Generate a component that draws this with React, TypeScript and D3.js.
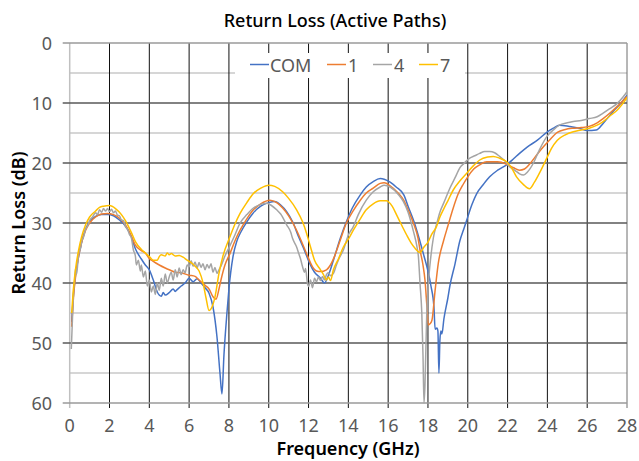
import React from "react";
import * as d3 from "d3";

const W = 639;
const H = 461;

const xTicks = [0, 2, 4, 6, 8, 10, 12, 14, 16, 18, 20, 22, 24, 26, 28];
const yMajor = [0, 10, 20, 30, 40, 50, 60];
const yMinor = [5, 15, 25, 35, 45, 55];

const seriesNames = ["COM", "1", "4", "7"];
const seriesColors = ["#4472C4", "#ED7D31", "#A5A5A5", "#FFC000"];

// COM (blue): [GHz, dB]
const comData: [number, number][] = [
  [0.1, 46.5], [0.2, 41.5], [0.3, 38.5], [0.45, 35.5], [0.6, 33.2], [0.8, 31], [1.0, 29.8], [1.3, 28.9],
  [1.6, 28.6], [1.9, 28.6], [2.2, 28.8], [2.5, 29.5], [2.8, 30.5], [3.1, 32.3], [3.3, 34.3], [3.6, 36],
  [3.8, 37], [4.0, 37.8], [4.2, 39.5], [4.4, 41.5], [4.6, 42.2], [4.7, 41.6], [4.8, 42], [5.0, 41.6], [5.2, 41],
  [5.3, 41.4], [5.4, 41.1], [5.6, 40.5], [5.8, 40], [6.0, 39.2], [6.2, 39.8], [6.4, 39.3], [6.6, 40], [6.8, 40.8],
  [7.0, 41.7], [7.2, 44], [7.4, 49], [7.55, 55], [7.65, 58.5], [7.75, 52], [7.9, 45], [8.0, 41], [8.2, 35.7],
  [8.4, 33], [8.6, 31.5], [8.9, 29.8], [9.2, 28.4], [9.6, 27.2], [10.0, 26.6], [10.3, 26.4], [10.6, 27],
  [10.9, 28.1], [11.2, 29.8], [11.5, 32.3], [11.8, 34.6], [12.05, 36.7], [12.3, 38.2], [12.6, 39.2], [12.8, 40],
  [13.0, 38.7], [13.25, 36.2], [13.6, 32.5], [13.9, 29.8], [14.2, 27.5], [14.6, 25.3], [14.9, 24], [15.25, 23.1],
  [15.6, 22.6], [15.8, 22.7], [16.1, 23.2], [16.4, 24], [16.8, 25.4], [17.0, 27.2], [17.3, 29.8], [17.55, 32.5],
  [17.8, 35.5], [18.0, 38], [18.15, 40.5], [18.3, 44], [18.36, 47.7], [18.45, 47.5], [18.5, 48], [18.55, 55],
  [18.6, 49.5], [18.65, 48], [18.7, 48.5], [18.8, 46], [19.0, 42.5], [19.1, 40.5], [19.36, 36.8], [19.6, 33],
  [19.8, 31], [19.95, 29.5], [20.2, 27], [20.45, 25.1], [20.8, 23.5], [21.1, 22.3], [21.5, 21.2], [21.95, 20.3],
  [22.3, 19.3], [22.6, 18.4], [23.0, 17.3], [23.5, 16.2], [24.0, 14.8], [24.3, 14.2], [24.6, 13.7], [25.1, 13.9],
  [25.6, 14.2], [26.0, 14.6], [26.45, 14.5], [26.8, 13.4], [27.3, 11.4], [27.7, 10], [28.0, 8.7],
];

// Path 1 (orange)
const p1Data: [number, number][] = [
  [0.1, 47.3], [0.2, 42], [0.3, 38.8], [0.45, 35.5], [0.6, 33.2], [0.8, 31.2], [1.0, 30], [1.3, 29],
  [1.6, 28.5], [1.9, 28.4], [2.2, 28.6], [2.5, 29.2], [2.8, 30.3], [3.1, 32.2], [3.3, 33.7], [3.6, 34.6],
  [3.8, 35], [4.0, 35.9], [4.2, 36.4], [4.5, 37], [4.8, 37.5], [5.0, 37.8], [5.3, 38.2], [5.6, 38.3],
  [6.0, 38.7], [6.3, 38.9], [6.5, 39.5], [6.8, 40.4], [7.0, 41], [7.2, 42.3], [7.35, 42.7], [7.5, 41],
  [7.6, 39.5], [7.8, 37], [8.05, 35.1], [8.3, 33], [8.56, 31.2], [8.9, 29.3], [9.23, 27.8], [9.6, 26.8],
  [10.06, 26.2], [10.4, 26.6], [10.7, 27.5], [11.0, 28.8], [11.4, 31.2], [11.7, 33.5], [11.9, 35.1],
  [12.2, 37.3], [12.4, 38], [12.6, 38.1], [12.9, 37.8], [13.1, 37], [13.3, 35.6], [13.6, 32.8], [13.9, 30],
  [14.2, 28.2], [14.6, 26.2], [14.9, 25], [15.25, 24.2], [15.6, 23.4], [15.8, 23.3], [16.1, 23.8], [16.5, 25],
  [16.8, 26.3], [17.0, 27.8], [17.3, 30.3], [17.5, 32.5], [17.6, 34.5], [17.75, 37], [17.85, 39.5],
  [17.95, 44], [18.02, 47], [18.1, 46.8], [18.2, 46.2], [18.36, 41.2], [18.52, 36.7], [18.78, 33],
  [19.0, 30.5], [19.27, 27.5], [19.5, 25.3], [19.78, 23.5], [20.0, 22.3], [20.3, 21], [20.6, 20.3],
  [20.95, 19.8], [21.5, 19.8], [21.95, 20.2], [22.3, 20.8], [22.6, 21.2], [22.85, 21], [23.1, 20.2],
  [23.5, 18.5], [23.8, 17.3], [24.1, 16.2], [24.5, 14.9], [24.9, 14.4], [25.3, 14.2], [25.7, 14.1],
  [26.1, 13.9], [26.5, 13.3], [26.8, 12.6], [27.2, 11.5], [27.5, 10.6], [28.0, 8.9],
];

// Path 4 (gray)
const p4Data: [number, number][] = [
  [0.08, 51], [0.15, 45], [0.2, 41], [0.25, 39.5], [0.3, 37.5], [0.35, 38.5], [0.45, 35], [0.55, 34.2],
  [0.6, 33], [0.7, 32.3], [0.8, 31], [0.9, 30.5], [1.0, 29.6], [1.15, 29], [1.3, 28.3], [1.4, 28.6],
  [1.5, 27.8], [1.6, 28.2], [1.7, 27.6], [1.8, 28], [1.9, 27.6], [2.0, 28.1], [2.1, 27.7], [2.2, 28.3],
  [2.3, 28], [2.4, 28.7], [2.5, 28.8], [2.6, 29.5], [2.7, 29.6], [2.8, 30.6], [2.9, 31], [3.0, 31.9],
  [3.1, 32.5], [3.2, 34.5], [3.3, 35.5], [3.35, 37], [3.45, 36.2], [3.55, 38], [3.6, 37], [3.7, 39],
  [3.8, 38], [3.9, 40.5], [4.0, 39.5], [4.1, 41.5], [4.2, 40.5], [4.3, 41.9], [4.4, 40], [4.5, 41.2],
  [4.6, 39.2], [4.7, 40.5], [4.8, 38.5], [4.9, 40], [5.0, 39], [5.1, 38.2], [5.2, 39.5], [5.3, 37.8],
  [5.4, 39], [5.5, 37.5], [5.6, 38.6], [5.7, 37.8], [5.8, 38.3], [5.9, 37], [6.0, 37.3], [6.1, 36.3],
  [6.2, 37.2], [6.3, 36.5], [6.4, 37.5], [6.5, 36.6], [6.6, 37.4], [6.7, 36.8], [6.8, 37.8], [6.9, 36.9],
  [7.0, 37.5], [7.1, 36.8], [7.2, 38.2], [7.3, 37.4], [7.4, 38.4], [7.5, 37.8], [7.6, 37.2], [7.8, 35.5],
  [8.05, 33.8], [8.3, 32], [8.56, 30], [8.9, 28.6], [9.23, 27.5], [9.6, 26.9], [9.9, 26.7], [10.1, 27],
  [10.4, 27.8], [10.6, 28.5], [10.9, 30.3], [11.1, 31.5], [11.2, 32.6], [11.4, 34], [11.5, 35], [11.6, 36],
  [11.7, 37.3], [11.8, 38.2], [11.85, 37.6], [11.95, 40.2], [12.0, 40.6], [12.1, 39.5], [12.2, 40.8],
  [12.3, 39.2], [12.4, 39.8], [12.5, 39], [12.6, 39.6], [12.7, 38.9], [12.8, 39.5], [12.9, 38.6],
  [13.0, 38.3], [13.1, 38.8], [13.25, 38.4], [13.4, 37], [13.55, 35.8], [13.75, 34.5], [14.0, 32],
  [14.25, 30.6], [14.5, 28.6], [14.9, 26.2], [15.25, 24.8], [15.6, 24], [15.8, 23.7], [16.1, 24],
  [16.5, 25.2], [16.76, 26.4], [17.0, 28.2], [17.27, 31.4], [17.45, 34], [17.52, 35.6], [17.6, 40],
  [17.69, 45], [17.75, 52], [17.8, 60], [17.85, 57], [17.94, 45], [18.02, 40], [18.1, 37], [18.27, 32.5],
  [18.45, 30], [18.6, 28.2], [18.8, 26.6], [19.1, 24.2], [19.4, 22.2], [19.6, 20.8], [19.8, 20.1],
  [20.1, 19.2], [20.35, 18.8], [20.6, 18.4], [20.85, 18.1], [21.1, 18.1], [21.35, 18.3], [21.6, 18.9],
  [21.85, 19.6], [22.1, 20.6], [22.4, 21.3], [22.6, 21.8], [22.8, 22], [23.0, 21.5], [23.3, 20],
  [23.6, 17.8], [23.97, 15.6], [24.3, 14.5], [24.6, 13.7], [25.0, 13.3], [25.3, 13.1], [25.7, 12.9],
  [26.1, 12.6], [26.5, 12.3], [26.8, 11.7], [27.2, 10.8], [27.5, 10.1], [27.8, 9], [28.0, 8.1],
];

// Path 7 (yellow)
const p7Data: [number, number][] = [
  [0.1, 45], [0.2, 40.5], [0.3, 37.5], [0.45, 34.5], [0.6, 32.3], [0.8, 30.3], [1.0, 29], [1.3, 28],
  [1.5, 27.4], [1.7, 27.2], [2.0, 27.1], [2.3, 27.6], [2.6, 28.6], [2.8, 29.6], [3.1, 31.6], [3.3, 33.1],
  [3.6, 34.4], [3.8, 35], [4.0, 35.6], [4.2, 36.2], [4.4, 36.2], [4.5, 35.6], [4.6, 35.3], [4.8, 35.5],
  [4.9, 35], [5.0, 35.3], [5.1, 35.1], [5.3, 35.5], [5.5, 35.4], [5.7, 35.7], [5.9, 36.2], [6.1, 36.6],
  [6.3, 37.2], [6.5, 38], [6.7, 40], [6.85, 42.5], [7.0, 44.6], [7.1, 44.3], [7.3, 42.3], [7.5, 38.4],
  [7.7, 35.5], [8.05, 32.3], [8.3, 30.2], [8.56, 28.4], [8.9, 26.6], [9.23, 25.1], [9.6, 24.2], [10.0, 23.7],
  [10.3, 23.9], [10.7, 24.8], [11.0, 25.9], [11.4, 27.8], [11.7, 29.8], [11.9, 31.7], [12.1, 34],
  [12.3, 36.2], [12.6, 37.8], [12.75, 38.6], [12.9, 39.5], [13.0, 39], [13.1, 39.6], [13.25, 37.8],
  [13.5, 36], [13.75, 34], [14.0, 32.7], [14.25, 31.2], [14.6, 29.3], [14.9, 27.8], [15.25, 26.8],
  [15.6, 26.3], [15.9, 26.3], [16.2, 27.2], [16.43, 28.7], [16.7, 30.5], [16.93, 32], [17.15, 33.3],
  [17.35, 34.2], [17.6, 34.9], [17.8, 34], [18.0, 33.2], [18.2, 31.8], [18.4, 30.8], [18.6, 29],
  [18.8, 27.6], [19.0, 26.3], [19.27, 24.5], [19.6, 23], [19.95, 21.7], [20.3, 20.4], [20.6, 19.5],
  [21.0, 19], [21.28, 18.9], [21.6, 19.2], [21.95, 19.8], [22.2, 20.8], [22.45, 22.3], [22.8, 23.6],
  [23.1, 24.3], [23.35, 23.2], [23.6, 21.7], [23.97, 19.2], [24.2, 17.6], [24.5, 16.2], [24.9, 15.3],
  [25.3, 14.8], [25.7, 14.5], [26.1, 14.2], [26.5, 13.7], [26.8, 13.1], [27.2, 12], [27.5, 11.2], [28.0, 9.1],
];

const seriesData = [comData, p1Data, p4Data, p7Data];

const FONT = "'Noto Sans', 'Open Sans', sans-serif";

export default function App() {
  const left = 69.7;
  const right = 627;
  const top = 43;
  const bottom = 403;

  const x = d3.scaleLinear().domain([0, 28]).range([left, right]);
  const y = d3.scaleLinear().domain([0, 60]).range([top, bottom]);

  const line = d3
    .line<[number, number]>()
    .x((d) => x(d[0]))
    .y((d) => y(d[1]))
    .curve(d3.curveMonotoneX);

  const legendItems = [
    { lx: 250, tx: 270 },
    { lx: 327, tx: 348 },
    { lx: 373, tx: 394 },
    { lx: 419, tx: 440 },
  ];

  return (
    <svg
      width={W}
      height={H}
      style={{ position: "absolute", left: 0, top: 0, background: "#fff" }}
      fontFamily={FONT}
    >
      <rect x={0} y={0} width={W} height={H} fill="#fff" />
      {yMinor.map((v) => (
        <line key={"mn" + v} x1={left} x2={right} y1={y(v)} y2={y(v)} stroke="#c8c8c8" strokeWidth={1.5} />
      ))}
      {xTicks.map((v) => (
        <line
          key={"vx" + v}
          x1={x(v)}
          x2={x(v)}
          y1={top}
          y2={bottom + 5}
          stroke={v === 0 ? "#c0c0c0" : v === 28 ? "#6e6e6e" : "#111"}
          strokeWidth={v === 0 ? 1.5 : 1}
        />
      ))}
      {yMajor.map((v) => (
        <line
          key={"mj" + v}
          x1={left - 7}
          x2={right}
          y1={y(v)}
          y2={y(v)}
          stroke={v === 0 || v === 60 ? "#9a9a9a" : "#595959"}
          strokeWidth={1.5}
        />
      ))}
      <defs>
        <clipPath id="plotClip">
          <rect x={left} y={top} width={right - left} height={bottom - top + 1} />
        </clipPath>
      </defs>
      <g clipPath="url(#plotClip)">
        {seriesData.map((d, i) => (
          <path key={seriesNames[i]} d={line(d) || ""} fill="none" stroke={seriesColors[i]} strokeWidth={1.5} />
        ))}
      </g>
      <rect x={235} y={53} width={230} height={25} fill="#fff" />
      {seriesNames.map((n, i) => (
        <g key={"lg" + n}>
          <line
            x1={legendItems[i].lx}
            x2={legendItems[i].lx + 19}
            y1={64.5}
            y2={64.5}
            stroke={seriesColors[i]}
            strokeWidth={1.5}
          />
          <text x={legendItems[i].tx} y={71.5} fontSize={18} fill="#595959">
            {n}
          </text>
        </g>
      ))}
      {yMajor.map((v) => (
        <text key={"yl" + v} x={52} y={y(v) + 6.5} textAnchor="end" fontSize={18} fill="#595959">
          {v}
        </text>
      ))}
      {xTicks.map((v) => (
        <text key={"xl" + v} x={x(v)} y={432} textAnchor="middle" fontSize={18} fill="#595959">
          {v}
        </text>
      ))}
      <text x={335} y={27} textAnchor="middle" fontSize={18} fontWeight={500} fill="#000">
        Return Loss (Active Paths)
      </text>
      <text x={348} y={455} textAnchor="middle" fontSize={18} fontWeight={600} fill="#000">
        Frequency (GHz)
      </text>
      <text
        transform={`translate(25, ${(top + bottom) / 2}) rotate(-90)`}
        textAnchor="middle"
        fontSize={18}
        fontWeight={600}
        fill="#000"
      >
        Return Loss (dB)
      </text>
    </svg>
  );
}
